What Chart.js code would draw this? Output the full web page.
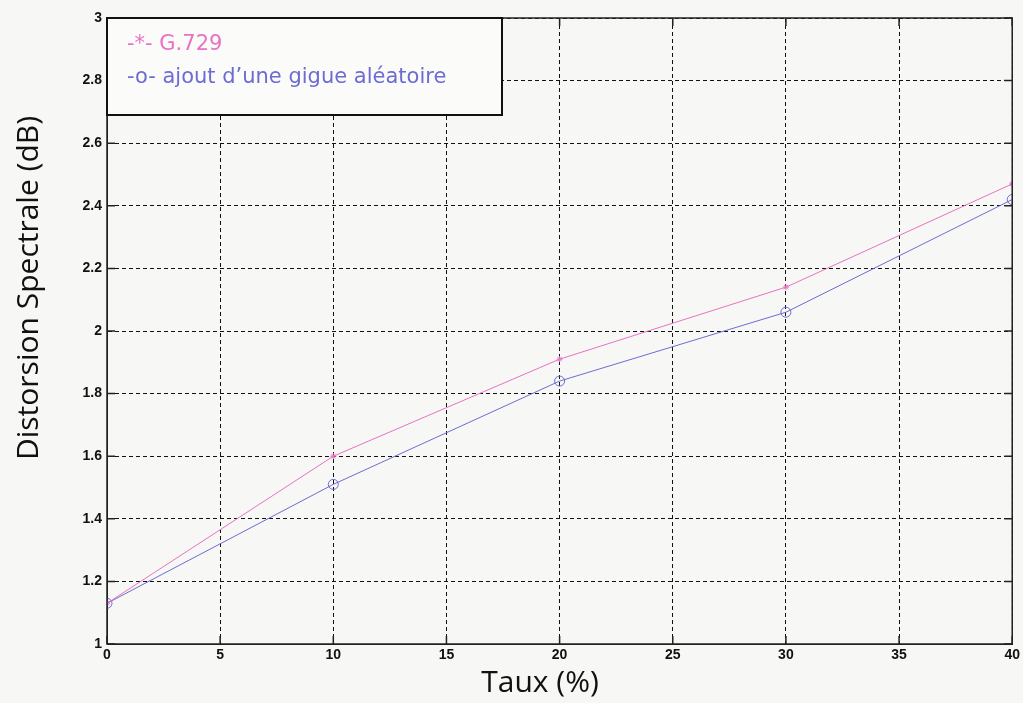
<!DOCTYPE html>
<html>
<head>
<meta charset="utf-8">
<script src="https://cdn.jsdelivr.net/npm/chart.js@4.4.0/dist/chart.umd.min.js"></script>
<style>
  html, body { margin: 0; padding: 0; background: #f7f7f5; }
  #wrap { width: 1023px; height: 703px; }
</style>
</head>
<body>
<div id="wrap"><canvas id="chart" width="1023" height="703"></canvas></div>
<script>
// ====== DATA ======
const taux = [0, 10, 20, 30, 40];
const g729 = [1.13, 1.60, 1.91, 2.14, 2.47];
const gigue = [1.13, 1.51, 1.84, 2.06, 2.42];
const seriesLabels = ['-*- G.729', '-o- ajout d\u2019une gigue al\u00e9atoire'];
const xTitle = 'Taux (%)';
const yTitle = 'Distorsion Spectrale (dB)';

const pink = '#e872c4';
const blue = '#6c6cd2';

// box, inward ticks, axis titles and the text legend, MATLAB style
const matlabBox = {
    id: 'matlabBox',
    afterDraw(chart) {
        const ctx = chart.ctx;
        const a = chart.chartArea;
        const xs = chart.scales.x, ys = chart.scales.y;
        ctx.save();
        ctx.strokeStyle = '#222';
        ctx.lineWidth = 1.5;
        ctx.strokeRect(a.left, a.top, a.right - a.left, a.bottom - a.top);
        ctx.beginPath();
        xs.ticks.forEach(t => {
            const px = xs.getPixelForValue(t.value);
            ctx.moveTo(px, a.bottom); ctx.lineTo(px, a.bottom - 8);
            ctx.moveTo(px, a.top); ctx.lineTo(px, a.top + 8);
        });
        ys.ticks.forEach(t => {
            const py = ys.getPixelForValue(t.value);
            ctx.moveTo(a.left, py); ctx.lineTo(a.left + 8, py);
            ctx.moveTo(a.right, py); ctx.lineTo(a.right - 8, py);
        });
        ctx.stroke();

        // axis titles
        ctx.fillStyle = '#111';
        ctx.font = '30px "Open Sans", "DejaVu Sans", sans-serif';
        ctx.textAlign = 'center';
        ctx.textBaseline = 'middle';
        ctx.fillText(xTitle, 540, 683);
        ctx.save();
        ctx.translate(29, 288);
        ctx.rotate(-Math.PI / 2);
        ctx.fillText(yTitle, 0, 0);
        ctx.restore();

        // legend box
        const bx = a.left, by = a.top, bw = 395, bh = 97;
        ctx.fillStyle = '#fbfbfa';
        ctx.fillRect(bx, by, bw, bh);
        ctx.strokeStyle = '#111';
        ctx.lineWidth = 2;
        ctx.strokeRect(bx, by, bw, bh);
        ctx.font = '21px "DejaVu Sans", Verdana, sans-serif';
        ctx.textBaseline = 'middle';
        ctx.textAlign = 'left';
        chart.data.datasets.forEach((ds, i) => {
            ctx.fillStyle = ds.borderColor;
            ctx.fillText(ds.label, bx + 20, by + 27 + i * 33);
        });
        ctx.restore();
    }
};

const tickFont = { family: 'Liberation Sans, Arial', size: 14, weight: 'bold' };

new Chart(document.getElementById('chart'), {
    type: 'line',
    data: {
        datasets: [
            {
                label: seriesLabels[0],
                data: taux.map((x, i) => ({ x: x, y: g729[i] })),
                borderColor: pink,
                borderWidth: 1,
                pointStyle: 'star',
                pointRadius: 3,
                pointBorderColor: pink,
                pointBorderWidth: 1,
                fill: false
            },
            {
                label: seriesLabels[1],
                data: taux.map((x, i) => ({ x: x, y: gigue[i] })),
                borderColor: blue,
                borderWidth: 1,
                pointStyle: 'circle',
                pointRadius: 5,
                pointBackgroundColor: 'rgba(0,0,0,0)',
                pointBorderColor: blue,
                pointBorderWidth: 1,
                fill: false
            }
        ]
    },
    options: {
        responsive: false,
        animation: false,
        layout: { padding: { left: 0, right: 1, top: 18, bottom: 0 } },
        plugins: { legend: { display: false }, tooltip: { enabled: false } },
        scales: {
            x: {
                type: 'linear',
                min: 0, max: 40,
                ticks: { stepSize: 5, color: '#111', font: tickFont, padding: 3, maxRotation: 0 },
                grid: { color: '#111', lineWidth: 1, tickLength: 0 },
                border: { display: true, color: '#222', dash: [4, 3] },
                afterFit: s => { s.height = 59; }
            },
            y: {
                min: 1, max: 3,
                ticks: { stepSize: 0.2, color: '#111', font: tickFont, padding: 5, callback: v => String(Math.round(v * 10) / 10) },
                grid: { color: '#111', lineWidth: 1, tickLength: 0 },
                border: { display: true, color: '#222', dash: [4, 3] },
                afterFit: s => { s.width = 107; }
            }
        }
    },
    plugins: [matlabBox]
});
</script>
</body>
</html>
